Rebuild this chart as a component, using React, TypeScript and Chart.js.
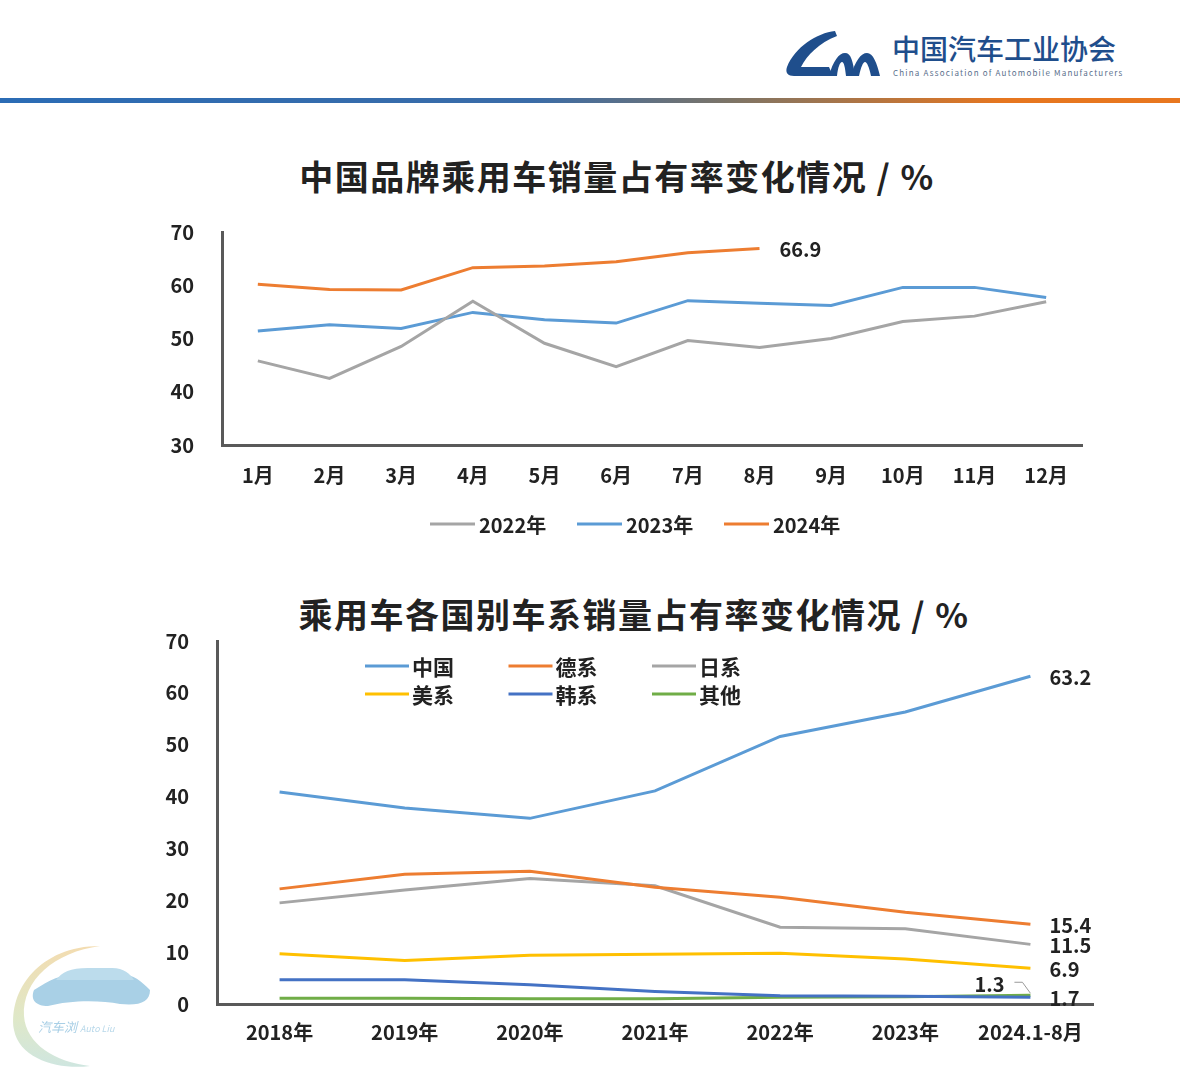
import React, { useEffect, useRef } from 'react';
import { Chart, registerables } from 'chart.js';

Chart.register(...registerables);

// ---------- data ----------
const months = ['1月', '2月', '3月', '4月', '5月', '6月', '7月', '8月', '9月', '10月', '11月', '12月'];
const share2022 = [45.8, 42.5, 48.5, 57.0, 49.1, 44.7, 49.6, 48.3, 50.0, 53.2, 54.2, 56.9];
const share2023 = [51.4, 52.6, 51.9, 54.9, 53.5, 52.9, 57.1, 56.6, 56.2, 59.6, 59.6, 57.7];
const share2024 = [60.2, 59.2, 59.1, 63.3, 63.6, 64.4, 66.1, 66.9];
const topSeriesNames = ['2022年', '2023年', '2024年'];

const years = ['2018年', '2019年', '2020年', '2021年', '2022年', '2023年', '2024.1-8月'];
const china = [40.9, 37.8, 35.8, 41.1, 51.6, 56.3, 63.2];
const german = [22.2, 25.0, 25.6, 22.5, 20.6, 17.7, 15.4];
const japanese = [19.5, 22.0, 24.2, 22.8, 14.8, 14.5, 11.5];
const american = [9.7, 8.4, 9.4, 9.6, 9.8, 8.7, 6.9];
const korean = [4.7, 4.7, 3.7, 2.4, 1.6, 1.5, 1.3];
const others = [1.1, 1.1, 1.0, 1.0, 1.3, 1.4, 1.7];
const bottomSeriesNames = ['中国', '德系', '日系', '美系', '韩系', '其他'];

const FONT = '"Noto Sans CJK SC", "Noto Sans", sans-serif';
const C_GRAY = '#a5a5a5';
const C_BLUE = '#5b9bd5';
const C_ORANGE = '#ed7d31';
const C_YELLOW = '#ffc000';
const C_DBLUE = '#4472c4';
const C_GREEN = '#70ad47';

// ---------- plugins ----------
const gridLegendPlugin = {
  id: 'gridLegend',
  afterDraw(chart: any, _args: any, opts: any) {
    if (!opts || !opts.display) return;
    const ctx = chart.ctx;
    ctx.save();
    ctx.font = opts.font;
    ctx.textBaseline = 'middle';
    ctx.textAlign = 'left';
    chart.data.datasets.forEach((ds: any, i: number) => {
      const col = i % opts.cols;
      const row = Math.floor(i / opts.cols);
      const x = opts.x + col * opts.colWidth;
      const y = opts.y + row * opts.rowHeight;
      ctx.strokeStyle = ds.borderColor;
      ctx.lineWidth = 3;
      ctx.beginPath();
      ctx.moveTo(x, y);
      ctx.lineTo(x + opts.lineLen, y);
      ctx.stroke();
      ctx.fillStyle = '#222';
      ctx.fillText(ds.label, x + opts.lineLen + opts.gap, y + 1);
    });
    ctx.restore();
  },
};

const endLabelPlugin = {
  id: 'endLabels',
  afterDatasetsDraw(chart: any, _args: any, opts: any) {
    if (!opts || !opts.items) return;
    const ctx = chart.ctx;
    ctx.save();
    ctx.font = opts.font;
    ctx.fillStyle = '#222';
    ctx.textBaseline = 'middle';
    opts.items.forEach((it: any) => {
      const data = chart.data.datasets[it.dataset].data;
      let idx = data.length - 1;
      while (idx >= 0 && data[idx] == null) idx--;
      const pt = chart.getDatasetMeta(it.dataset).data[idx];
      if (!pt) return;
      const text = Number(data[idx]).toFixed(1);
      ctx.textAlign = it.align || 'left';
      const x = pt.x + it.dx;
      const y = pt.y + it.dy;
      ctx.fillText(text, x, y);
      if (it.leader) {
        ctx.strokeStyle = '#999';
        ctx.lineWidth = 1;
        ctx.beginPath();
        ctx.moveTo(x + 40, y - 2);
        ctx.lineTo(x + 48, y - 2);
        ctx.lineTo(pt.x, pt.y - 4);
        ctx.stroke();
      }
    });
    ctx.restore();
  },
};

function lineDs(label: string, data: number[], color: string) {
  return {
    label,
    data,
    borderColor: color,
    backgroundColor: color,
    borderWidth: 3,
    pointRadius: 0,
    tension: 0,
    fill: false,
  };
}

function fixY(width: number) {
  return (s: any) => {
    s.width = width;
    s.paddingTop = 0;
    s.paddingBottom = 0;
  };
}

function TopChart() {
  const ref = useRef<HTMLCanvasElement | null>(null);
  useEffect(() => {
    if (!ref.current) return;
    const chart = new Chart(ref.current, {
      type: 'line',
      data: {
        labels: months,
        datasets: [
          lineDs(topSeriesNames[0], share2022, C_GRAY),
          lineDs(topSeriesNames[1], share2023, C_BLUE),
          lineDs(topSeriesNames[2], share2024, C_ORANGE),
        ],
      },
      options: {
        animation: false,
        responsive: false,
        maintainAspectRatio: false,
        layout: { padding: { left: 0, right: 28, top: 22, bottom: 0 } },
        plugins: {
          legend: { display: false },
          tooltip: { enabled: false },
          gridLegend: {
            display: true,
            x: 290, y: 314, cols: 3, colWidth: 147, rowHeight: 28,
            lineLen: 45, gap: 4, font: `bold 20px ${FONT}`,
          },
          endLabels: {
            font: `bold 20px ${FONT}`,
            items: [{ dataset: 2, dx: 20, dy: 1 }],
          },
        } as any,
        scales: {
          x: {
            offset: true,
            grid: { display: false, drawTicks: false },
            border: { display: true, color: '#595959', width: 3 },
            ticks: { color: '#222', font: { family: FONT, size: 20, weight: 'bold' }, padding: 18, maxRotation: 0, autoSkip: false },
            afterFit: (s: any) => { s.height = 105; },
          },
          y: {
            min: 30,
            max: 70,
            grid: { display: false, drawTicks: false },
            border: { display: true, color: '#595959', width: 3 },
            ticks: { stepSize: 10, color: '#222', font: { family: FONT, size: 20, weight: 'bold' }, padding: 28 },
            afterFit: fixY(82),
          },
        },
      } as any,
      plugins: [gridLegendPlugin, endLabelPlugin],
    });
    return () => chart.destroy();
  }, []);
  return (
    <canvas ref={ref} width={970} height={340}
      style={{ position: 'absolute', left: 140, top: 210, width: 970, height: 340 }} />
  );
}

function BottomChart() {
  const ref = useRef<HTMLCanvasElement | null>(null);
  useEffect(() => {
    if (!ref.current) return;
    const chart = new Chart(ref.current, {
      type: 'line',
      data: {
        labels: years,
        datasets: [
          lineDs(bottomSeriesNames[0], china, C_BLUE),
          lineDs(bottomSeriesNames[1], german, C_ORANGE),
          lineDs(bottomSeriesNames[2], japanese, C_GRAY),
          lineDs(bottomSeriesNames[3], american, C_YELLOW),
          lineDs(bottomSeriesNames[4], korean, C_DBLUE),
          lineDs(bottomSeriesNames[5], others, C_GREEN),
        ],
      },
      options: {
        animation: false,
        responsive: false,
        maintainAspectRatio: false,
        layout: { padding: { left: 0, right: 17, top: 21, bottom: 0 } },
        plugins: {
          legend: { display: false },
          tooltip: { enabled: false },
          gridLegend: {
            display: true,
            x: 225, y: 46, cols: 3, colWidth: 143.5, rowHeight: 28,
            lineLen: 44, gap: 3, font: `bold 21px ${FONT}`,
          },
          endLabels: {
            font: `bold 20px ${FONT}`,
            items: [
              { dataset: 0, dx: 19, dy: 1 },
              { dataset: 1, dx: 19, dy: 1 },
              { dataset: 2, dx: 19, dy: 1 },
              { dataset: 3, dx: 19, dy: 1 },
              { dataset: 4, dx: -56, dy: -13, leader: true },
              { dataset: 5, dx: 19, dy: 3 },
            ],
          },
        } as any,
        scales: {
          x: {
            offset: true,
            grid: { display: false, drawTicks: false },
            border: { display: true, color: '#595959', width: 3 },
            ticks: { color: '#222', font: { family: FONT, size: 20, weight: 'bold' }, padding: 16, maxRotation: 0, autoSkip: false },
            afterFit: (s: any) => { s.height = 66; },
          },
          y: {
            min: 0,
            max: 70,
            grid: { display: false, drawTicks: false },
            border: { display: true, color: '#595959', width: 3 },
            ticks: { stepSize: 10, color: '#222', font: { family: FONT, size: 20, weight: 'bold' }, padding: 28 },
            afterFit: fixY(77),
          },
        },
      } as any,
      plugins: [gridLegendPlugin, endLabelPlugin],
    });
    return () => chart.destroy();
  }, []);
  return (
    <canvas ref={ref} width={970} height={450}
      style={{ position: 'absolute', left: 140, top: 620, width: 970, height: 450 }} />
  );
}

function HeaderLogo() {
  return (
    <svg width={96} height={50} viewBox="0 0 96 50"
      style={{ position: 'absolute', left: 785, top: 29 }}>
      <path d="M50 2 C 32 4, 10 18, 2 38 C 0 44, 3 47, 9 47 L 48 47 L 44 38 L 16 38 C 22 26, 34 14, 52 7 Z" fill="#1f4e8c" />
      <path d="M44 47 C 48 32, 54 24, 60 24 C 66 24, 68 32, 70 47 L 61 47 C 60 38, 59 33, 57 33 C 55 33, 53 38, 52 47 Z" fill="#1f4e8c" />
      <path d="M66 47 C 70 32, 76 24, 82 24 C 88 24, 92 34, 95 47 L 86 47 C 84 38, 82 33, 80 33 C 78 33, 76 38, 74 47 Z" fill="#1f4e8c" />
    </svg>
  );
}

function Watermark() {
  return (
    <svg width={170} height={130} viewBox="0 0 170 130"
      style={{ position: 'absolute', left: 0, top: 940 }}>
      <defs>
        <linearGradient id="arcg" x1="0" y1="0" x2="0" y2="1">
          <stop offset="0" stopColor="#f3dcb0" />
          <stop offset="0.6" stopColor="#dfe8c8" />
          <stop offset="1" stopColor="#cfe6e0" />
        </linearGradient>
      </defs>
      <path d="M100 6 C 40 6, 8 50, 14 90 C 20 120, 60 130, 90 126 C 55 122, 26 104, 24 76 C 22 40, 55 12, 100 6 Z" fill="url(#arcg)" />
      <path d="M34 50 C 50 40, 60 34, 80 34 L 120 34 C 134 34, 142 42, 150 50 C 150 62, 140 66, 120 64 C 100 60, 70 60, 48 66 C 36 66, 30 60, 34 50 Z" fill="#a9d0e6" />
      <path d="M56 40 C 62 32, 70 28, 88 28 L 112 28 C 124 28, 130 34, 134 40 Z" fill="#bcdcec" />
      <text x="38" y="92" fontSize="13" fontStyle="italic" fontFamily={FONT} fill="#a8cfe6">汽车浏</text>
      <text x="80" y="92" fontSize="9" fontStyle="italic" fontFamily={FONT} fill="#b8d8ea">Auto Liu</text>
    </svg>
  );
}

export default function App() {
  return (
    <div style={{ position: 'absolute', left: 0, top: 0, width: 1180, height: 1084, background: '#fff', overflow: 'hidden', fontFamily: FONT }}>
      <HeaderLogo />
      <div style={{ position: 'absolute', left: 892, top: 28, fontSize: 28, lineHeight: '40px', color: '#1f4e8c', fontWeight: 500, letterSpacing: 0, whiteSpace: 'nowrap' }}>
        中国汽车工业协会
      </div>
      <div style={{ position: 'absolute', left: 893, top: 68, fontSize: 8, lineHeight: '10px', letterSpacing: 1.2, color: '#5a6f8c', whiteSpace: 'nowrap' }}>
        China Association of Automobile Manufacturers
      </div>
      <div style={{ position: 'absolute', left: 0, top: 98, width: 1180, height: 5, background: 'linear-gradient(90deg, #2b6cb5 0%, #3a6ca8 45%, #7d7466 62%, #e6761f 85%, #e8771f 100%)' }} />

      <div style={{ position: 'absolute', left: 0, width: 1180, top: 154, textAlign: 'center', paddingLeft: 54, boxSizing: 'border-box', fontSize: 34, letterSpacing: 1.5, fontWeight: 'bold', lineHeight: '44px', color: '#222', whiteSpace: 'nowrap' }}>
        中国品牌乘用车销量占有率变化情况 / %
      </div>
      <div style={{ position: 'absolute', left: 0, width: 1180, top: 592, textAlign: 'center', paddingLeft: 88, boxSizing: 'border-box', fontSize: 34, letterSpacing: 1.5, fontWeight: 'bold', lineHeight: '44px', color: '#222', whiteSpace: 'nowrap' }}>
        乘用车各国别车系销量占有率变化情况 / %
      </div>

      <TopChart />
      <BottomChart />
      <Watermark />
    </div>
  );
}
